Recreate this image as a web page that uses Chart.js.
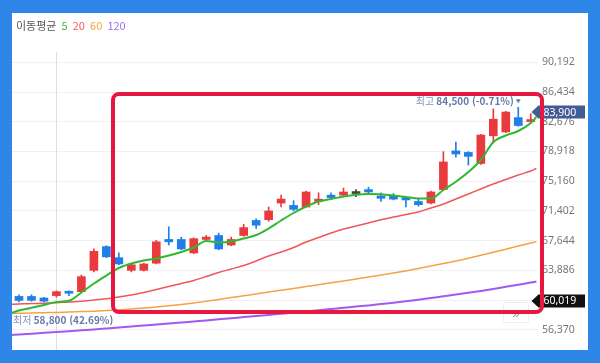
<!DOCTYPE html>
<html lang="ko">
<head>
  <meta charset="UTF-8">
  <title>이동평균</title>
  <script src="https://cdn.jsdelivr.net/npm/chart.js"></script>
  <style>
    html, body {
      margin: 0;
      width: 600px;
      height: 363px;
      overflow: hidden;
      background: #2e87e8;
      font-family: "Noto Sans CJK KR", "Noto Sans", sans-serif;
    }
    #panel {
      position: absolute;
      left: 12px;
      top: 13px;
      width: 576px;
      height: 337px;
      background: #fff;
    }
    #chart {
      position: absolute;
      left: 0;
      top: 0;
    }
    #legend {
      position: absolute;
      left: 4px;
      top: 5px;
      font-size: 11px;
      line-height: 14px;
      color: #555;
    }
    #legend span { margin-left: 2px; }
    .m5 { color: #3dba3d; }
    .m20 { color: #f35b5b; }
    .m60 { color: #f2a541; }
    .m120 { color: #9d6df2; }
    #highlight {
      position: absolute;
      left: 111px;
      top: 91.5px;
      width: 433px;
      height: 222.5px;
      box-sizing: border-box;
      border: 4px solid #e6183f;
      border-radius: 8px;
    }
  </style>
</head>
<body>
  <div id="panel">
    <canvas id="chart" width="576" height="337"></canvas>
    <div id="legend">이동평균 <span class="m5">5</span> <span class="m20">20</span> <span class="m60">60</span> <span class="m120">120</span></div>
  </div>
  <div id="highlight"></div>

  <script>
    // price axis ticks
    const yTicks = [56370, 60128, 63886, 67644, 71402, 75160, 78918, 82676, 86434, 90192];

    // daily candles
    const opens  = [60600, 60600, 60400, 60700, 61100, 61200, 63900, 66900, 65500, 63900,
                    63900, 64800, 67800, 67800, 66100, 67800, 68300, 67100, 68300, 70200,
                    70300, 72400, 72100, 71900, 72600, 73400, 73400, 73600, 74100, 73300,
                    73300, 73100, 72600, 72400, 74100, 79000, 78800, 77400, 80900, 81400,
                    83200, 82700];
    const highs  = [60800, 60800, 60500, 61300, 61300, 63300, 66600, 67000, 66100, 64700,
                    64800, 67700, 69400, 68100, 68000, 68300, 68600, 68100, 69700, 70400,
                    71900, 73400, 72700, 73900, 73700, 73700, 74300, 74100, 74400, 73700,
                    73600, 73200, 72900, 73900, 78900, 80100, 78900, 81100, 84300, 84000,
                    84500, 83700];
    const lows   = [59900, 60000, 59900, 60500, 60700, 61100, 63700, 65500, 64600, 63700,
                    63800, 64700, 67100, 66500, 66000, 67600, 66500, 67000, 68200, 69200,
                    70100, 71900, 71400, 71900, 72200, 72900, 73200, 73200, 73600, 72600,
                    72800, 71900, 72000, 72300, 74000, 78200, 77200, 77300, 80000, 81300,
                    82100, 82500];
    const closes = [60100, 60100, 60000, 61200, 61000, 63100, 66300, 65600, 64700, 64600,
                    64700, 67500, 67500, 66600, 67900, 68100, 66600, 67800, 69300, 69600,
                    71400, 72900, 71600, 73800, 72900, 73100, 73800, 73600, 73800, 73000,
                    72900, 72800, 72200, 73800, 77600, 78600, 78300, 81000, 83000, 83900,
                    82200, 82900];

    // moving averages, one value per candle, plus the values at the left and right edges
    const ma5 = [58820, 59161, 59515, 59894, 60046, 61095, 62233, 63244, 64192, 64761,
                 65140, 65393, 65772, 66214, 66783, 67605, 67415, 67541, 67921, 68363,
                 69185, 70196, 71144, 71965, 72597, 72913, 73229, 73457, 73545, 73507,
                 73356, 73166, 72977, 72977, 74051, 75100, 76326, 77843, 80118, 80940,
                 81509, 82520];
    const ma5Edge = [58542, 83278];
    const ma20 = [59641, 59704, 59730, 59793, 59894, 59982, 60147, 60299, 60526, 60779,
                  61095, 61474, 61854, 62233, 62612, 63118, 63623, 64066, 64509, 65078,
                  65710, 66214, 66783, 67478, 68047, 68616, 69122, 69501, 69880, 70285,
                  70639, 70951, 71270, 71776, 72281, 72914, 73545, 74177, 74809, 75378,
                  75947, 76452];
    const ma20Edge = [59603, 76768];
    const ma60 = [58479, 58503, 58541, 58579, 58630, 58680, 58731, 58807, 58908, 59009,
                  59136, 59262, 59414, 59579, 59768, 59983, 60210, 60451, 60678, 60906,
                  61158, 61373, 61601, 61841, 62081, 62321, 62549, 62802, 63054, 63307,
                  63560, 63813, 64129, 64445, 64761, 65077, 65431, 65798, 66177, 66569,
                  66973, 67352];
    const ma60Edge = [58466, 67517];
    const ma120 = [55774, 55888, 56001, 56102, 56203, 56317, 56418, 56545, 56671, 56798,
                   56924, 57050, 57177, 57303, 57430, 57569, 57708, 57847, 57986, 58125,
                   58264, 58403, 58554, 58706, 58858, 59011, 59161, 59315, 59464, 59629,
                   59806, 59983, 60185, 60400, 60615, 60830, 61058, 61298, 61551, 61816,
                   62082, 62347];
    const ma120Edge = [55723, 62474];

    const lastPrice = 83900;
    const lowestPrice = 58800;
    const refPrice = 60019;
    const dividerIndex = 3;

    const X_MIN = -0.56, X_MAX = 41.58, X_END = 41.45;
    const RED = '#e93b3d', BLUE = '#1f7fe8', GRAY = '#444';

    const candleColor = opens.map((o, i) => closes[i] > o ? RED : closes[i] < o ? BLUE : GRAY);

    function maPoints(values, edge) {
      return [{ x: X_MIN, y: edge[0] }]
        .concat(values.map((v, i) => ({ x: i, y: v })))
        .concat([{ x: X_END, y: edge[1] }]);
    }

    function maLine(values, edge, color, width) {
      return {
        type: 'line',
        data: maPoints(values, edge),
        borderColor: color,
        borderWidth: width,
        pointRadius: 0,
        cubicInterpolationMode: 'monotone',
        order: 0
      };
    }

    const fmt = v => v.toLocaleString('en-US');
    const LABEL_BLUE = '#6478ad';

    function priceTag(ctx, yPix, left, right, color, text) {
      const h = 13, tip = 7;
      ctx.fillStyle = color;
      ctx.beginPath();
      ctx.moveTo(left, yPix);
      ctx.lineTo(left + tip, yPix - h / 2);
      ctx.lineTo(right, yPix - h / 2);
      ctx.lineTo(right, yPix + h / 2);
      ctx.lineTo(left + tip, yPix + h / 2);
      ctx.closePath();
      ctx.fill();
      ctx.fillStyle = '#fff';
      ctx.font = '10.5px "Noto Sans"';
      ctx.textAlign = 'left';
      ctx.textBaseline = 'middle';
      ctx.fillText(text, left + 12, yPix + 0.5);
    }

    function extremeLabel(ctx, x, y, word, value, align) {
      const pct = ((lastPrice / value - 1) * 100).toFixed(2);
      const bold = fmt(value) + ' (' + pct + '%)';
      const normalFont = '10px "Noto Sans CJK KR"';
      const boldFont = 'bold 10px "Noto Sans CJK KR"';
      ctx.font = normalFont;
      const w1 = ctx.measureText(word + ' ').width;
      ctx.font = boldFont;
      const w2 = ctx.measureText(bold).width;
      const start = align === 'right' ? x - w1 - w2 : x;
      ctx.textAlign = 'left';
      ctx.textBaseline = 'middle';
      ctx.fillStyle = '#8393bd';
      ctx.font = normalFont;
      ctx.fillText(word + ' ', start, y);
      ctx.fillStyle = LABEL_BLUE;
      ctx.font = boldFont;
      ctx.fillText(bold, start + w1, y);
    }

    const overlay = {
      id: 'overlay',
      beforeDatasetsDraw(chart) {
        const { ctx, chartArea, scales: { x } } = chart;
        const px = Math.round(x.getPixelForValue(dividerIndex)) + 0.5;
        ctx.save();
        ctx.strokeStyle = '#dedede';
        ctx.lineWidth = 1;
        ctx.beginPath();
        ctx.moveTo(px, chartArea.top + 39);
        ctx.lineTo(px, chartArea.bottom);
        ctx.stroke();
        ctx.restore();
      },
      afterDraw(chart) {
        const { ctx, chartArea, scales: { x, y } } = chart;
        ctx.save();

        // scroll button
        const bx = chartArea.right - 35, by = chartArea.bottom - 48;
        ctx.fillStyle = 'rgba(255,255,255,0.9)';
        ctx.strokeStyle = '#ececec';
        ctx.lineWidth = 1;
        ctx.beginPath();
        ctx.roundRect(bx + 0.5, by + 0.5, 25, 20, 2);
        ctx.fill();
        ctx.stroke();
        ctx.fillStyle = '#999';
        ctx.font = '15px "Noto Sans"';
        ctx.textAlign = 'center';
        ctx.textBaseline = 'middle';
        ctx.fillText('»', bx + 13, by + 11.5);

        // price tags on the axis
        const tagLeft = chartArea.right - 6.5;
        const tagRight = chart.width - 3;
        priceTag(ctx, y.getPixelForValue(lastPrice), tagLeft, tagRight, '#405d94', fmt(lastPrice));
        priceTag(ctx, y.getPixelForValue(refPrice), tagLeft, tagRight, '#111', fmt(refPrice));

        // highest marker
        let hi = 0;
        highs.forEach((h, i) => { if (h > highs[hi]) hi = i; });
        const hx = x.getPixelForValue(hi);
        const hy = y.getPixelForValue(highs[hi]) - 6;
        extremeLabel(ctx, hx - 4.5, hy, '최고', highs[hi], 'right');
        ctx.fillStyle = LABEL_BLUE;
        ctx.beginPath();
        ctx.moveTo(hx - 2.5, hy - 2);
        ctx.lineTo(hx + 2.5, hy - 2);
        ctx.lineTo(hx, hy + 2);
        ctx.closePath();
        ctx.fill();

        // lowest marker (candle is left of the view)
        extremeLabel(ctx, chartArea.left + 1, y.getPixelForValue(lowestPrice) + 10, '최저', lowestPrice, 'left');

        ctx.restore();
      }
    };

    new Chart(document.getElementById('chart'), {
      type: 'bar',
      data: {
        datasets: [
          maLine(ma5, ma5Edge, '#30b830', 2),
          maLine(ma20, ma20Edge, '#f0575a', 1.5),
          maLine(ma60, ma60Edge, '#f5a243', 1.5),
          maLine(ma120, ma120Edge, '#a05af2', 2),
          {
            data: opens.map((o, i) => ({ x: i, y: [o, closes[i]] })),
            backgroundColor: candleColor,
            barThickness: 8,
            minBarLength: 2,
            grouped: false,
            order: 1
          },
          {
            data: lows.map((l, i) => ({ x: i, y: [l, highs[i]] })),
            backgroundColor: candleColor,
            barThickness: 1,
            grouped: false,
            order: 2
          }
        ]
      },
      options: {
        responsive: false,
        animation: false,
        layout: { padding: 0 },
        plugins: {
          legend: { display: false },
          tooltip: { enabled: false }
        },
        scales: {
          x: {
            type: 'linear',
            min: X_MIN,
            max: X_MAX,
            offset: false,
            display: false
          },
          y: {
            position: 'right',
            min: 53827,
            max: 96424,
            afterBuildTicks: s => { s.ticks = yTicks.map(v => ({ value: v })); },
            afterFit: s => {
              s.width = 50;
              s.paddingTop = 0;
              s.paddingBottom = 0;
            },
            grid: { color: '#f1f1f1', drawTicks: false },
            border: { display: false },
            ticks: {
              autoSkip: false,
              padding: 4,
              color: '#777',
              font: { family: '"Noto Sans"', size: 10.5 },
              callback: v => fmt(v)
            }
          }
        }
      },
      plugins: [overlay]
    });
  </script>
</body>
</html>
